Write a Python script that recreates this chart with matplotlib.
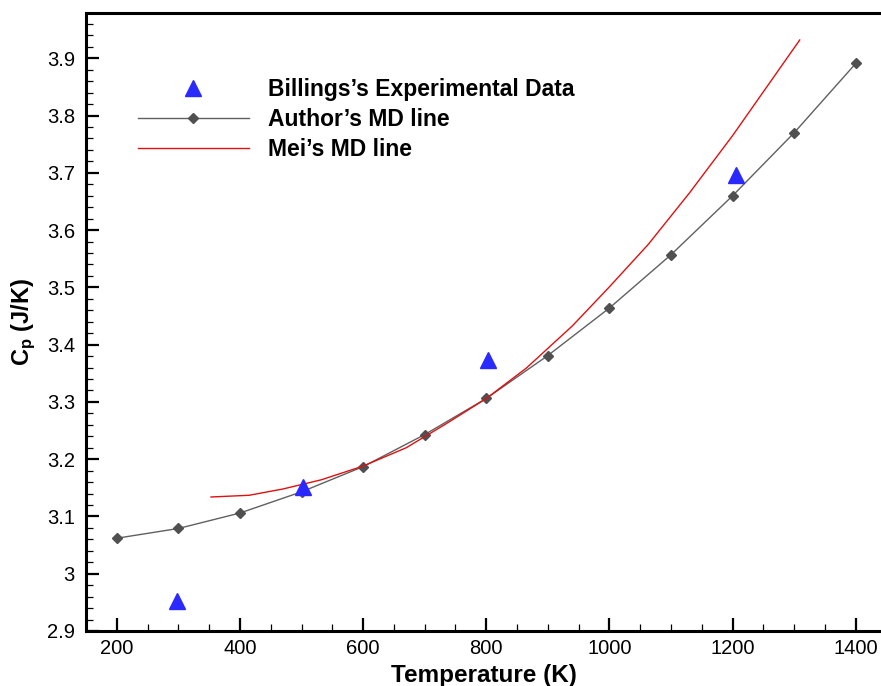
import matplotlib
matplotlib.use('Agg')
import matplotlib.pyplot as plt
from matplotlib.ticker import MultipleLocator

plt.rcParams['font.family'] = ['Liberation Sans', 'DejaVu Sans']
plt.rcParams['mathtext.fontset'] = 'custom'
plt.rcParams['mathtext.rm'] = 'Liberation Sans'
plt.rcParams['mathtext.bf'] = 'Liberation Sans:bold'

# --- data ---
author_T = [200, 300, 400, 500, 600, 700, 800, 900, 1000, 1100, 1200, 1300, 1400]
author_cp = [3.062, 3.079, 3.106, 3.143, 3.187, 3.243, 3.306, 3.381, 3.464, 3.557,
             3.660, 3.770, 3.891]

billings_T = [298, 502, 803, 1205]
billings_cp = [2.953, 3.152, 3.374, 3.697]

mei_T = [353, 415, 470, 532, 600, 670, 735, 800, 865, 940, 1000, 1063, 1130, 1200, 1309]
mei_cp = [3.134, 3.137, 3.148, 3.164, 3.188, 3.220, 3.262, 3.306, 3.359, 3.433,
          3.501, 3.575, 3.665, 3.765, 3.932]

fig = plt.figure(figsize=(8.81, 6.86), dpi=100)
ax = fig.add_axes([86 / 881, 1 - 631 / 686, 1 - 86 / 881, (631 - 12.5) / 686])

ax.plot(billings_T, billings_cp, linestyle='none', marker='^', ms=11,
        color='#2a2aff', mec='#2a2aff', label='Billings\u2019s Experimental Data', zorder=3)
ax.plot(author_T, author_cp, color='#606060', lw=1.0, marker='D', ms=5,
        mfc='#505050', mec='#505050', label='Author\u2019s MD line', zorder=2)
ax.plot(mei_T, mei_cp, color='#e01010', lw=1.0, label='Mei\u2019s MD line', zorder=2)

ax.set_xlim(150, 1441)
ax.set_ylim(2.9, 3.98)
ax.xaxis.set_major_locator(MultipleLocator(200))
ax.xaxis.set_minor_locator(MultipleLocator(50))
ax.yaxis.set_minor_locator(MultipleLocator(0.02))
ax.set_yticks([2.9, 3.0, 3.1, 3.2, 3.3, 3.4, 3.5, 3.6, 3.7, 3.8, 3.9])
ax.set_yticklabels(['2.9', '3', '3.1', '3.2', '3.3', '3.4', '3.5', '3.6', '3.7', '3.8', '3.9'])

ax.tick_params(which='major', direction='in', length=9.5, width=1.6, labelsize=14.5, pad=6)
ax.tick_params(which='minor', direction='in', length=5, width=0.9)
ax.tick_params(axis='y', which='major', pad=8)
ax.tick_params(top=False, right=False, which='both')

for s in ['left', 'bottom', 'top']:
    ax.spines[s].set_linewidth(2.2)
ax.spines['right'].set_visible(False)

ax.set_xlabel('Temperature (K)', fontsize=17.5, fontweight='bold', labelpad=4)
ax.set_ylabel(r'$\mathbf{C_p}$ (J/K)', fontsize=17, fontweight='bold', labelpad=6)

leg = ax.legend(loc='upper left', bbox_to_anchor=(0.065, 0.894), frameon=False,
                prop={'weight': 'bold', 'size': 16.5}, handlelength=4.85,
                handletextpad=0.82, labelspacing=0.3, borderpad=0, borderaxespad=0)

fig.savefig('out.png', dpi=100)
